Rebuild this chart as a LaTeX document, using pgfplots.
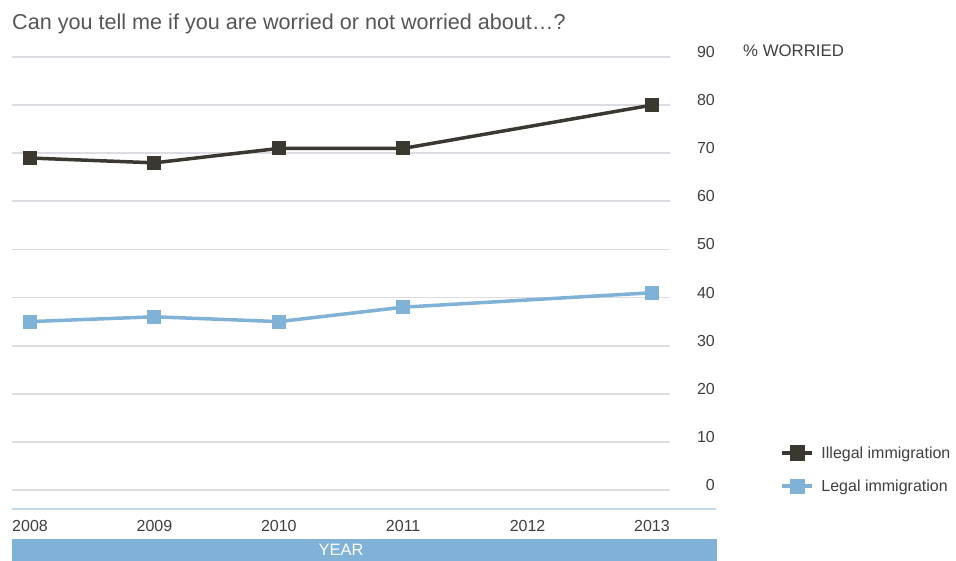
\documentclass[border=0pt]{standalone}
\usepackage{fontspec}
\setmainfont{Liberation Sans}
\usepackage{pgfplots}
\pgfplotsset{compat=1.18}
\definecolor{darkline}{HTML}{3B3832}
\definecolor{blueline}{HTML}{80B1D6}
\definecolor{gridgray}{HTML}{DCDCE2}
\definecolor{paleblue}{HTML}{BDD7EC}
\definecolor{tickgray}{HTML}{3F3F3F}
\definecolor{titlegray}{HTML}{555555}
\begin{document}
\begin{tikzpicture}[x=1pt,y=1pt]
\useasboundingbox (0,0) rectangle (956,561);
\fill[blueline] (12,0) rectangle (717,22);
\node[text=white, font=\fontsize{16.5}{19}\selectfont] at (341,11) {YEAR};
\draw[paleblue, line width=2.5pt] (12,52) -- (716,52);
\node[anchor=base west, inner sep=0pt, text=titlegray, font=\fontsize{21.6}{25}\selectfont] at (12,531) {Can you tell me if you are worried or not worried about\ldots?};
\node[anchor=base west, inner sep=0pt, text=tickgray, font=\fontsize{16.8}{19}\selectfont] at (743,504) {\% WORRIED};
\begin{axis}[
  at={(12pt,71pt)}, anchor=south west,
  scale only axis, width=658pt, height=433pt,
  xmin=2007.855, xmax=2013.145, ymin=0, ymax=90,
  axis x line=bottom, axis y line=right,
  axis line style={draw=none},
  ymajorgrids, grid style={gridgray, line width=1.8pt},
  xtick={2008,2009,2010,2011,2012,2013},
  ytick={0,10,...,90},
  major tick length=0pt,
  /pgf/number format/assume math mode=true,
  /pgf/number format/1000 sep={},
  tick label style={font=\fontsize{16}{19}\selectfont, text=tickgray},
  yticklabel style={anchor=east, inner sep=0pt, xshift=45pt, yshift=5pt},
  xticklabel style={anchor=base, inner sep=0pt, yshift=-42pt},
  clip=false,
  legend style={at={(1.163,0.110)}, anchor=north west, draw=none, fill=none,
    font=\fontsize{16}{19}\selectfont, text=tickgray, row sep=16pt,
    /tikz/every even column/.append style={column sep=2pt},
    /tikz/every odd column/.append style={column sep=5pt}},
  legend cell align=left,
  legend image code/.code={\draw[mark repeat=2,mark phase=2,#1,line width=4pt,mark size=5.7pt] plot coordinates {(0pt,0pt) (15pt,0pt) (30pt,0pt)};},
]
\addplot[darkline, line width=3.5pt, mark=square*, mark size=5.2pt, mark options={solid}] coordinates {
(2008,69) (2009,68) (2010,71) (2011,71) (2013,80)};
\addlegendentry{Illegal immigration}
\addplot[blueline, line width=3.5pt, mark=square*, mark size=5.2pt, mark options={solid}] coordinates {
(2008,35) (2009,36) (2010,35) (2011,38) (2013,41)};
\addlegendentry{Legal immigration}
\end{axis}
\end{tikzpicture}
\end{document}
